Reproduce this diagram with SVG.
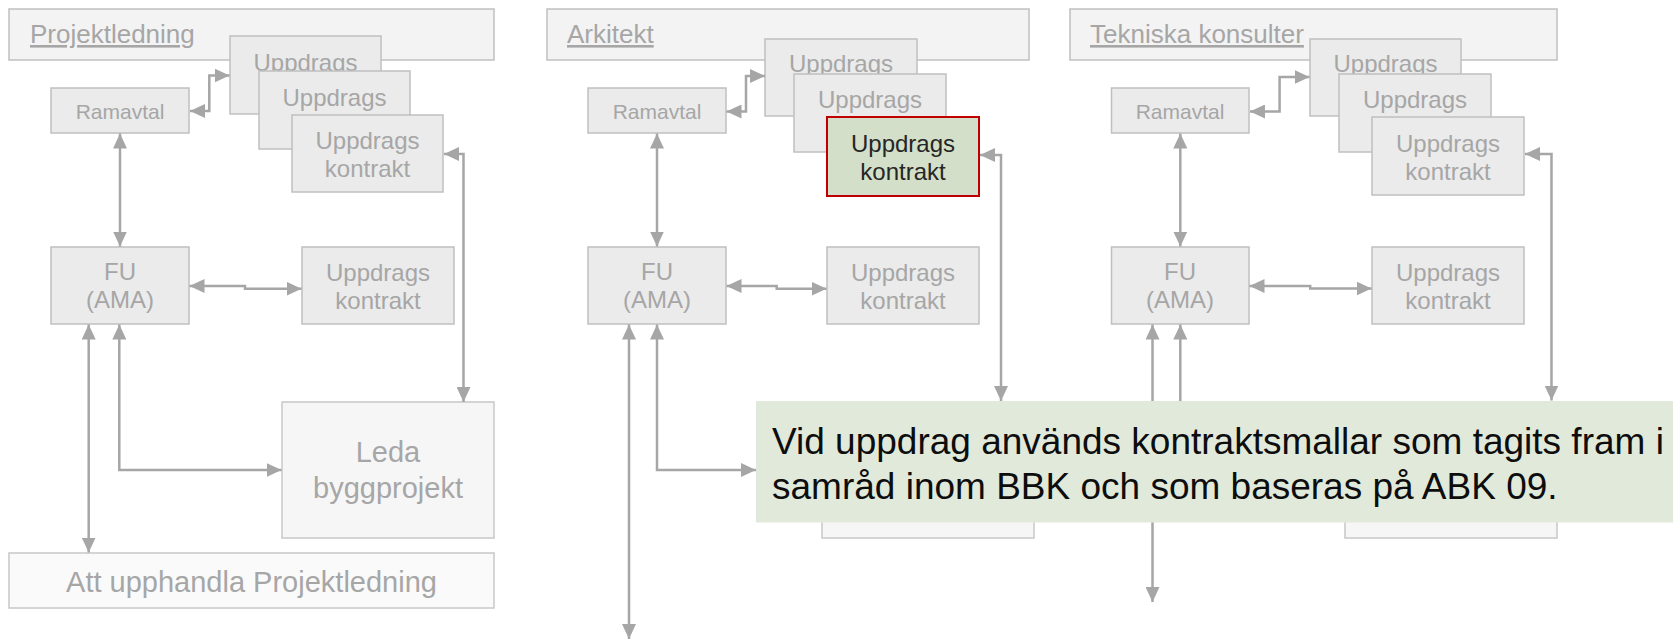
<svg xmlns="http://www.w3.org/2000/svg" width="1673" height="640" viewBox="0 0 1673 640">
<style>
text{font-family:"Liberation Sans",Arial,sans-serif;fill:#a6a6a6}
.title{fill:#f3f3f3;stroke:#c0c0c0;stroke-width:1.5}
.node{fill:#ebebeb;stroke:#c0c0c0;stroke-width:1.5}
.big{fill:#f6f6f6;stroke:#c8c8c8;stroke-width:1.5}
.low{fill:#fafafa;stroke:#c8c8c8;stroke-width:1.5}
.hl{fill:#d3dfc8;stroke:#c00000;stroke-width:2}
.t26{font-size:26px;text-decoration:underline}
.t21{font-size:21px;text-anchor:middle}
.t24{font-size:24px;text-anchor:middle}
.t29{font-size:29px;text-anchor:middle}
.dark{fill:#262626}
.con path{fill:none;stroke:#a6a6a6;stroke-width:2.5;marker-start:url(#ah);marker-end:url(#ah)}
.callout text{fill:#0d0d0d;font-size:37px}
</style>
<defs>
<marker id="ah" markerUnits="userSpaceOnUse" markerWidth="15" markerHeight="14" refX="15" refY="7" orient="auto-start-reverse" viewBox="0 0 15 14">
<path d="M0,0 L15,7 L0,14 z" fill="#a6a6a6"/>
</marker>
</defs>
<rect width="1673" height="640" fill="#ffffff"/>

<!-- Panel 1 -->
<g id="p1-title"><rect class="title" x="9" y="9" width="485" height="51"/><text class="t26" x="30" y="43">Projektledning</text></g>
<g id="p1-ramavtal"><rect class="node" x="51" y="88" width="138" height="45"/><text class="t21" x="120" y="119">Ramavtal</text></g>
<g id="p1-stack1"><rect class="node" x="230" y="36" width="151" height="78"/><text class="t24" x="305.5" y="71">Uppdrags</text></g>
<g id="p1-stack2"><rect class="node" x="259" y="71" width="151" height="78"/><text class="t24" x="334.5" y="106">Uppdrags</text></g>
<g id="p1-stack3"><rect class="node" x="292" y="115" width="151" height="77"/><text class="t24" x="367.5" y="149">Uppdrags</text><text class="t24" x="367.5" y="177">kontrakt</text></g>
<g id="p1-fu"><rect class="node" x="51" y="247" width="138" height="77"/><text class="t24" x="120" y="280">FU</text><text class="t24" x="120" y="308">(AMA)</text></g>
<g id="p1-uk"><rect class="node" x="302" y="247" width="152" height="77"/><text class="t24" x="378" y="280.5">Uppdrags</text><text class="t24" x="378" y="308.5">kontrakt</text></g>
<g id="p1-leda"><rect class="big" x="282" y="402" width="212" height="136"/><text class="t29" x="388" y="462">Leda</text><text class="t29" x="388" y="498">byggprojekt</text></g>
<g id="p1-att"><rect class="low" x="9" y="553" width="485" height="55"/><text class="t29" x="251.5" y="592">Att upphandla Projektledning</text></g>

<!-- Panel 2 -->
<g id="p2-title"><rect class="title" x="547" y="9" width="482" height="51"/><text class="t26" x="567" y="43">Arkitekt</text></g>
<g id="p2-ramavtal"><rect class="node" x="588" y="88" width="138" height="45"/><text class="t21" x="657" y="119">Ramavtal</text></g>
<g id="p2-stack1"><rect class="node" x="765" y="39" width="152" height="77"/><text class="t24" x="841" y="72">Uppdrags</text></g>
<g id="p2-stack2"><rect class="node" x="794" y="74" width="152" height="78"/><text class="t24" x="870" y="108">Uppdrags</text></g>
<g id="p2-stack3"><rect class="hl" x="827" y="117" width="152" height="79"/><text class="t24 dark" x="903" y="152">Uppdrags</text><text class="t24 dark" x="903" y="180">kontrakt</text></g>
<g id="p2-fu"><rect class="node" x="588" y="247" width="138" height="77"/><text class="t24" x="657" y="280">FU</text><text class="t24" x="657" y="308">(AMA)</text></g>
<g id="p2-uk"><rect class="node" x="827" y="247" width="152" height="77"/><text class="t24" x="903" y="280.5">Uppdrags</text><text class="t24" x="903" y="308.5">kontrakt</text></g>
<g id="p2-box"><rect class="big" x="822" y="402" width="212" height="136"/></g>

<!-- Panel 3 -->
<g id="p3-title"><rect class="title" x="1070" y="9" width="487" height="51"/><text class="t26" x="1090" y="43">Tekniska konsulter</text></g>
<g id="p3-ramavtal"><rect class="node" x="1111.5" y="88" width="137.5" height="45"/><text class="t21" x="1180" y="119">Ramavtal</text></g>
<g id="p3-stack1"><rect class="node" x="1310" y="39" width="151" height="77"/><text class="t24" x="1385.5" y="72">Uppdrags</text></g>
<g id="p3-stack2"><rect class="node" x="1339" y="74" width="152" height="78"/><text class="t24" x="1415" y="108">Uppdrags</text></g>
<g id="p3-stack3"><rect class="node" x="1372" y="117" width="152" height="78"/><text class="t24" x="1448" y="152">Uppdrags</text><text class="t24" x="1448" y="180">kontrakt</text></g>
<g id="p3-fu"><rect class="node" x="1111.5" y="247" width="137.5" height="77"/><text class="t24" x="1180" y="280">FU</text><text class="t24" x="1180" y="308">(AMA)</text></g>
<g id="p3-uk"><rect class="node" x="1372" y="247" width="152" height="77"/><text class="t24" x="1448" y="280.5">Uppdrags</text><text class="t24" x="1448" y="308.5">kontrakt</text></g>
<g id="p3-box"><rect class="big" x="1345" y="402" width="212" height="136"/></g>

<!-- Connectors -->
<g id="connectors" class="con">
<path d="M190,111 H209.3 V75.5 H229.5"/>
<path d="M120,133.5 V246.5"/>
<path d="M189.5,286 H245 V288.7 H301.5"/>
<path d="M444,154 H463.5 V402"/>
<path d="M88.7,324.5 V552.5"/>
<path d="M119.3,324.5 V470 H281.5"/>

<path d="M726.5,111.5 H746 V76 H765"/>
<path d="M657,133.5 V246.5"/>
<path d="M726.5,286 H776.7 V288.7 H826.5"/>
<path d="M980,155 H1001 V401"/>
<path d="M629,324.5 V639"/>
<path d="M657,324.5 V470 H756"/>

<path d="M1250,111.5 H1279.6 V77 H1309.5"/>
<path d="M1180.3,133.5 V246.5"/>
<path d="M1249.5,286 H1310.2 V288.5 H1371.5"/>
<path d="M1525,154 H1551.5 V400.5"/>
<path d="M1152.5,324.5 V602"/>
<path d="M1180.3,324.5 V470 H1345"/>
</g>

<!-- Callout -->
<g id="callout" class="callout">
<rect x="756" y="401" width="917" height="121.5" fill="#e1e9da"/>
<text x="772" y="453.5">Vid uppdrag används kontraktsmallar som tagits fram i</text>
<text x="772" y="498.5">samråd inom BBK och som baseras på ABK 09.</text>
</g>
</svg>
